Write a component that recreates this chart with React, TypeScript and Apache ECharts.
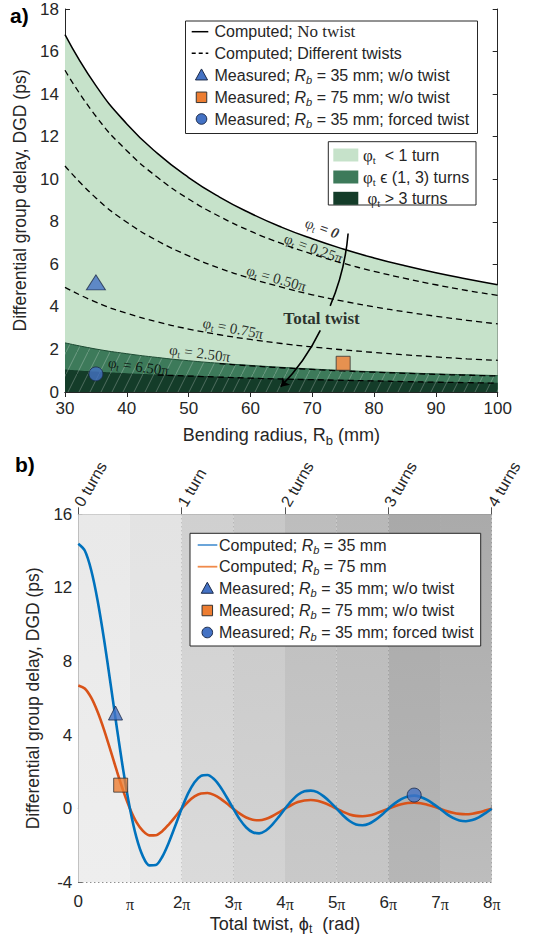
import React, { useEffect, useRef } from "react";
import * as echarts from "echarts";

// ---------------- data: panel a ----------------
const radiusMm = [30, 35, 40, 45, 50, 55, 60, 65, 70, 75, 80, 85, 90, 95, 100];
const dgdNoTwist = [16.8, 14.4, 12.6, 11.2, 10.08, 9.16, 8.4, 7.75, 7.2, 6.72, 6.3, 5.93, 5.6, 5.31, 5.04];
const dgdTwist025 = [15.12, 12.96, 11.34, 10.08, 9.07, 8.25, 7.56, 6.98, 6.48, 6.05, 5.67, 5.34, 5.04, 4.77, 4.54];
const dgdTwist050 = [10.62, 9.12, 7.98, 7.1, 6.4, 5.82, 5.34, 4.93, 4.57, 4.27, 4.0, 3.77, 3.56, 3.37, 3.2];
const dgdTwist075 = [4.92, 4.22, 3.7, 3.29, 2.96, 2.69, 2.47, 2.28, 2.12, 1.98, 1.86, 1.75, 1.65, 1.56, 1.49];
const dgdTwist250 = [null, null, null, null, null, 1.33, 1.23, 1.14, 1.06, 0.99, 0.93, 0.88, 0.83, 0.79, 0.75];
const dgdTwist650 = [null, null, null, 0.8, 0.75, 0.7, 0.65, 0.61, 0.58, 0.55, 0.52, 0.49, 0.46, 0.44, 0.41];
const boundOneTurn = [2.31, 2.02, 1.8, 1.62, 1.47, 1.35, 1.25, 1.16, 1.08, 1.01, 0.95, 0.9, 0.85, 0.81, 0.77];
const boundThreeTurns = [1.06, 0.96, 0.88, 0.82, 0.77, 0.72, 0.67, 0.63, 0.6, 0.57, 0.54, 0.51, 0.48, 0.46, 0.44];
const measTopTriangle = [35, 5.15];
const measTopSquare = [75, 1.35];
const measTopCircle = [35, 0.85];

// annotations on panel a
const annotX = [71.6, 70.2, 64.2, 57.2, 51.8, 41.9, 71.5];
const annotY = [7.7, 6.75, 5.34, 2.99, 1.82, 1.19, 3.46];
const annotAngle = [-20, -20, -16, -11, -7, -8, 0];
const annotText = [
  "{p|φ}{t|t}{b| = 0}",
  "{p|φ}{t|t}{p| = 0.25π}",
  "{p|φ}{t|t}{p| = 0.50π}",
  "{p|φ}{t|t}{p| = 0.75π}",
  "{p|φ}{t|t}{p| = 2.50π}",
  "{p|φ}{t|t}{p| = 6.50π}",
  "{bb|Total twist}",
];
const arrowUpper = [[75.8, 7.45], [72.9, 4.05]];
const arrowLower = [[71.3, 2.9], [64.9, 0.25]];

// ---------------- data: panel b ----------------
const twistPi = [0, 0.125, 0.25, 0.375, 0.5, 0.625, 0.75, 0.875, 1, 1.125, 1.25, 1.375, 1.5, 1.625, 1.75, 1.875,
  2, 2.125, 2.25, 2.375, 2.5, 2.625, 2.75, 2.875, 3, 3.125, 3.25, 3.375, 3.5, 3.625, 3.75, 3.875,
  4, 4.125, 4.25, 4.375, 4.5, 4.625, 4.75, 4.875, 5, 5.125, 5.25, 5.375, 5.5, 5.625, 5.75, 5.875,
  6, 6.125, 6.25, 6.375, 6.5, 6.625, 6.75, 6.875, 7, 7.125, 7.25, 7.375, 7.5, 7.625, 7.75, 7.875, 8];
const dgdR35 = [14.4, 14.03, 12.96, 11.29, 9.17, 6.78, 4.32, 2.0,
  0, -1.56, -2.59, -3.08, -3.06, -2.61, -1.85, -0.94,
  0, 0.83, 1.44, 1.78, 1.83, 1.61, 1.18, 0.61,
  0, -0.58, -1.02, -1.28, -1.34, -1.2, -0.88, -0.46,
  0, 0.42, 0.76, 0.95, 0.98, 0.9, 0.67, 0.36,
  0, -0.37, -0.67, -0.86, -0.9, -0.82, -0.61, -0.33,
  0, 0.29, 0.52, 0.66, 0.71, 0.64, 0.48, 0.25,
  0, -0.28, -0.5, -0.64, -0.68, -0.62, -0.47, -0.25, 0];
const dgdR75 = [6.7, 6.53, 6.03, 5.25, 4.27, 3.15, 2.01, 0.93,
  0, -0.73, -1.21, -1.45, -1.44, -1.22, -0.86, -0.44,
  0, 0.38, 0.67, 0.83, 0.85, 0.75, 0.55, 0.28,
  0, -0.27, -0.48, -0.6, -0.63, -0.56, -0.41, -0.21,
  0, 0.2, 0.36, 0.45, 0.47, 0.43, 0.32, 0.17,
  0, -0.17, -0.31, -0.39, -0.41, -0.37, -0.27, -0.14,
  0, 0.13, 0.24, 0.31, 0.33, 0.3, 0.22, 0.12,
  0, -0.12, -0.22, -0.28, -0.3, -0.27, -0.2, -0.1, 0];
const measBotTriangle = [0.72, 5.2];
const measBotSquare = [0.82, 1.28];
const measBotCircle = [6.5, 0.74];
const turnLabels = ["0 turns", "1 turn", "2 turns", "3 turns", "4 turns"];
const bandEdges = [0, 1, 2, 3, 4, 5, 6, 7, 8];

// ---------------- styles ----------------
const SANS = "'Liberation Sans', Arial, Helvetica, sans-serif";
const SERIF = "'Liberation Serif', 'Times New Roman', serif";
const INK = "#262626";
const LIGHT_GREEN = "#c6e2ca";
const MID_GREEN = "#3d7a5a";
const DARK_GREEN = "#143c29";
const TRI_BLUE = "#4472c4";
const SQ_ORANGE = "#ed7d31";
const LINE_BLUE = "#0072bd";
const LINE_ORANGE = "#d95319";
const bandTopColors = ["#e9e9e9", "#e3e3e3", "#d0d0d0", "#c8c8c8", "#bdbdbd", "#b8b8b8", "#a9a9a9", "#aaaaaa"];
const bandBottomColors = ["#eeeeee", "#e9e9e9", "#dadada", "#d3d3d3", "#c9c9c9", "#c6c6c6", "#b6b6b6", "#bdbdbd"];

function pairs(xs: number[], ys: (number | null)[]) {
  const out: number[][] = [];
  xs.forEach((x, i) => {
    const y = ys[i];
    if (y !== null && y !== undefined) out.push([x, y]);
  });
  return out;
}

function hatchPattern(base: string): any {
  const w = 11;
  const h = 22;
  if (typeof document === "undefined") return base;
  const c = document.createElement("canvas");
  c.width = w;
  c.height = h;
  const ctx = c.getContext("2d");
  if (!ctx) return base;
  ctx.fillStyle = base;
  ctx.fillRect(0, 0, w, h);
  ctx.strokeStyle = "rgba(255,255,255,0.32)";
  ctx.lineWidth = 0.8;
  ctx.beginPath();
  ctx.moveTo(-1, h + 2);
  ctx.lineTo(w + 1, -2);
  ctx.stroke();
  return { image: c, repeat: "repeat", imageWidth: w, imageHeight: h };
}

const legendRich: any = {
  n: { fontFamily: SANS, fontSize: 16, fill: INK, color: INK, lineHeight: 18 },
  i: { fontFamily: SANS, fontSize: 16, fontStyle: "italic", fill: INK, color: INK, lineHeight: 18 },
  sb: { fontFamily: SANS, fontSize: 11, fontStyle: "italic", fill: INK, color: INK, lineHeight: 12, padding: [9, 0, 0, 0] },
  sr: { fontFamily: SERIF, fontSize: 17, fill: INK, color: INK, lineHeight: 18 },
  ph: { fontFamily: SERIF, fontSize: 17, fill: INK, color: INK, lineHeight: 18 },
  pt: { fontFamily: SERIF, fontSize: 11, fill: INK, color: INK, lineHeight: 12, padding: [9, 0, 0, 0] },
};

function legendText(x: number, y: number, text: string) {
  return { type: "text", x, y, z: 101, silent: true, style: { text, rich: legendRich, align: "left", verticalAlign: "middle", fill: INK, fontFamily: SANS, fontSize: 16 } };
}
function legendBox(x: number, y: number, w: number, h: number) {
  return { type: "rect", z: 100, silent: true, shape: { x, y, width: w, height: h }, style: { fill: "#fff", stroke: INK, lineWidth: 1 } };
}
function legendLine(x1: number, x2: number, y: number, color: string, width: number, dash?: number[]) {
  return { type: "line", z: 101, silent: true, shape: { x1, y1: y, x2, y2: y }, style: { stroke: color, lineWidth: width, lineDash: dash || null } };
}
function legendTriangle(cx: number, cy: number, s: number) {
  return { type: "polygon", z: 101, silent: true, shape: { points: [[cx, cy - s * 0.55], [cx + s * 0.55, cy + s * 0.45], [cx - s * 0.55, cy + s * 0.45]] }, style: { fill: TRI_BLUE, stroke: "#1b2a4a", lineWidth: 1 } };
}
function legendSquare(cx: number, cy: number, s: number) {
  return { type: "rect", z: 101, silent: true, shape: { x: cx - s / 2, y: cy - s / 2, width: s, height: s }, style: { fill: SQ_ORANGE, stroke: "#333", lineWidth: 1 } };
}
function legendCircle(cx: number, cy: number, r: number) {
  return { type: "circle", z: 101, silent: true, shape: { cx, cy, r }, style: { fill: TRI_BLUE, stroke: "#1b2a4a", lineWidth: 1 } };
}
function swatch(x: number, y: number, color: string) {
  return { type: "rect", z: 101, silent: true, shape: { x, y: y - 6.5, width: 25, height: 13 }, style: { fill: color } };
}

function buildOption(): any {
  const tickLabel = { fontFamily: SANS, fontSize: 17, color: INK };
  const axisLineA = { show: true, lineStyle: { color: INK, width: 1 } };
  const tickA = { show: true, inside: true, length: 5, lineStyle: { color: INK } };

  const dashed = (name: string, ys: (number | null)[]) => ({
    name, type: "line", xAxisIndex: 0, yAxisIndex: 0, data: pairs(radiusMm, ys), smooth: true, symbol: "none",
    lineStyle: { color: "#000", width: 1.3, type: [6, 4] }, z: 5, silent: true,
  });

  const graphic: any[] = [
    { type: "text", x: 10, y: 15, z: 100, style: { text: "a)", fontFamily: SANS, fontWeight: "bold", fontSize: 21, fill: "#000", verticalAlign: "middle" } },
    { type: "text", x: 15, y: 464, z: 100, style: { text: "b)", fontFamily: SANS, fontWeight: "bold", fontSize: 21, fill: "#000", verticalAlign: "middle" } },
    // legend a1
    legendBox(185.5, 21, 292, 112.5),
    legendLine(191.7, 208.3, 31.7, "#000", 1.5),
    legendText(214.5, 31.7, "{n|Computed; }{sr|No twist}"),
    legendLine(191.7, 208.3, 53.3, "#000", 1.5, [4, 3]),
    legendText(214.5, 53.3, "{n|Computed; Different twists}"),
    legendTriangle(201.5, 75, 11),
    legendText(214.5, 75, "{n|Measured; }{i|R}{sb|b}{n| = 35 mm; w/o twist}"),
    legendSquare(201.5, 97.3, 10.5),
    legendText(214.5, 97.3, "{n|Measured; }{i|R}{sb|b}{n| = 75 mm; w/o twist}"),
    legendCircle(201.5, 119, 5.3),
    legendText(214.5, 119, "{n|Measured; }{i|R}{sb|b}{n| = 35 mm; forced twist}"),
    // legend a2
    legendBox(328.3, 141.7, 147.7, 63.3),
    swatch(333.3, 155, LIGHT_GREEN),
    legendText(363, 155, "{ph|φ}{pt|t}{n|  < 1 turn}"),
    swatch(333.3, 177, MID_GREEN),
    legendText(363, 177, "{ph|φ}{pt|t}{n| ϵ (1, 3) turns}"),
    swatch(333.3, 198.3, DARK_GREEN),
    legendText(363, 198.3, "{n| }{ph|φ}{pt|t}{n| > 3 turns}"),
    // legend b
    legendBox(190, 533.3, 290.7, 112.7),
    legendLine(197.7, 217.3, 545, "#5b9bd5", 1.8),
    legendText(219, 545, "{n|Computed; }{i|R}{sb|b}{n| = 35 mm}"),
    legendLine(197.7, 217.3, 566.7, "#f08a4b", 1.8),
    legendText(219, 566.7, "{n|Computed; }{i|R}{sb|b}{n| = 75 mm}"),
    legendTriangle(207.3, 588.3, 11),
    legendText(219, 588.3, "{n|Measured; }{i|R}{sb|b}{n| = 35 mm; w/o twist}"),
    legendSquare(207.3, 610.5, 10.5),
    legendText(219, 610.5, "{n|Measured; }{i|R}{sb|b}{n| = 75 mm; w/o twist}"),
    legendCircle(207.3, 632.5, 5.3),
    legendText(219, 632.5, "{n|Measured; }{i|R}{sb|b}{n| = 35 mm; forced twist}"),
  ];

  const annotRich = {
    p: { fontFamily: SERIF, fontSize: 15, color: "#000", lineHeight: 16 },
    t: { fontFamily: SERIF, fontSize: 10, color: "#000", lineHeight: 11, padding: [8, 0, 0, 0] },
    b: { fontFamily: SERIF, fontSize: 15, fontWeight: "bold", fontStyle: "italic", color: "#000", lineHeight: 16 },
    bb: { fontFamily: SERIF, fontSize: 17, fontWeight: "bold", color: "#000", lineHeight: 18 },
  };

  return {
    animation: false,
    backgroundColor: "#fff",
    graphic,
    grid: [
      { left: 65, top: 9, width: 432.7, height: 383, containLabel: false },
      { left: 78.3, top: 514.3, width: 413.4, height: 368, containLabel: false },
    ],
    xAxis: [
      {
        gridIndex: 0, type: "value", position: "bottom", min: 30, max: 100, interval: 10,
        axisLine: axisLineA, axisTick: tickA, splitLine: { show: false },
        axisLabel: { ...tickLabel, margin: 8 },
        name: "{n|Bending radius, R}{s|b}{n| (mm)}", nameLocation: "middle", nameGap: 33,
        nameTextStyle: { rich: { n: { fontFamily: SANS, fontSize: 18, color: INK, lineHeight: 20 }, s: { fontFamily: SANS, fontSize: 13, color: INK, lineHeight: 13, padding: [10, 0, 0, 0] } } },
      },
      {
        gridIndex: 0, type: "value", position: "top", min: 30, max: 100, interval: 10,
        axisLine: axisLineA, axisTick: tickA, axisLabel: { show: false }, splitLine: { show: false },
      },
      {
        gridIndex: 1, type: "value", position: "bottom", min: 0, max: 8, interval: 1,
        axisLine: { show: true, lineStyle: { color: "#5a5a5a", width: 1 } },
        axisTick: { show: true, inside: true, length: 4, lineStyle: { color: "#444" } },
        splitLine: { show: true, lineStyle: { type: [1, 3], color: "#333", width: 1 } },
        axisLabel: {
          margin: 11,
          formatter: (v: number) => (v === 0 ? "{n|0}" : v === 1 ? "{p|π}" : `{n|${v}}{p|π}`),
          rich: { n: { fontFamily: SANS, fontSize: 17, color: INK }, p: { fontFamily: SERIF, fontSize: 16, color: INK, padding: [3, 0, 0, 0] } },
        },
        name: "{n|Total twist, ϕ}{s|t}{n|  (rad)}", nameLocation: "middle", nameGap: 32,
        nameTextStyle: { rich: { n: { fontFamily: SANS, fontSize: 18, color: INK, lineHeight: 20 }, s: { fontFamily: SANS, fontSize: 12, color: INK, lineHeight: 12, padding: [10, 0, 0, 0] } } },
      },
      {
        gridIndex: 1, type: "value", position: "top", min: 0, max: 8, interval: 2,
        axisLine: { show: true, lineStyle: { color: "#777", width: 1 } },
        axisTick: { show: true, inside: false, length: 7, lineStyle: { color: "#555" } },
        splitLine: { show: false },
        axisLabel: {
          rotate: -60, align: "left", verticalAlign: "middle", margin: 9, fontFamily: SANS, fontSize: 16, color: INK,
          formatter: (v: number) => turnLabels[Math.round(v / 2)] || "",
        },
      },
    ],
    yAxis: [
      {
        gridIndex: 0, type: "value", position: "left", min: 0, max: 18, interval: 2,
        axisLine: axisLineA, axisTick: tickA, splitLine: { show: false },
        axisLabel: { ...tickLabel, margin: 6 },
        name: "Differential group delay, DGD (ps)", nameLocation: "middle", nameGap: 27,
        nameTextStyle: { fontFamily: SANS, fontSize: 17.5, color: INK },
      },
      {
        gridIndex: 0, type: "value", position: "right", min: 0, max: 18, interval: 2,
        axisLine: axisLineA, axisTick: tickA, axisLabel: { show: false }, splitLine: { show: false },
      },
      {
        gridIndex: 1, type: "value", position: "left", min: -4, max: 16, interval: 4,
        axisLine: { show: true, lineStyle: { color: "#5a5a5a", width: 1 } },
        axisTick: { show: true, inside: true, length: 4, lineStyle: { color: "#444" } },
        splitLine: { show: true, lineStyle: { type: [1, 3], color: "#333", width: 1 } },
        axisLabel: { ...tickLabel, margin: 6 },
        name: "Differential group delay, DGD (ps)", nameLocation: "middle", nameGap: 33,
        nameTextStyle: { fontFamily: SANS, fontSize: 17.5, color: INK },
      },
    ],
    series: [
      // ---- panel a fills ----
      {
        name: "fillLight", type: "line", xAxisIndex: 0, yAxisIndex: 0, data: pairs(radiusMm, dgdNoTwist), smooth: true,
        symbol: "none", lineStyle: { width: 0 }, areaStyle: { color: LIGHT_GREEN, opacity: 1 }, z: 1, silent: true,
      },
      {
        name: "fillMid", type: "line", xAxisIndex: 0, yAxisIndex: 0, data: pairs(radiusMm, boundOneTurn), smooth: true,
        symbol: "none", lineStyle: { width: 1, color: "#1e4a33" }, areaStyle: { color: hatchPattern(MID_GREEN), opacity: 1 }, z: 2, silent: true,
      },
      {
        name: "fillDark", type: "line", xAxisIndex: 0, yAxisIndex: 0, data: pairs(radiusMm, boundThreeTurns), smooth: true,
        symbol: "none", lineStyle: { width: 0 }, areaStyle: { color: hatchPattern(DARK_GREEN), opacity: 1 }, z: 3, silent: true,
      },
      dashed("twist025", dgdTwist025),
      dashed("twist050", dgdTwist050),
      dashed("twist075", dgdTwist075),
      dashed("twist250", dgdTwist250),
      dashed("twist650", dgdTwist650),
      {
        name: "noTwist", type: "line", xAxisIndex: 0, yAxisIndex: 0, data: pairs(radiusMm, dgdNoTwist), smooth: true,
        symbol: "none", lineStyle: { color: "#000", width: 1.5 }, z: 6, silent: true,
      },
      {
        name: "annotations", type: "scatter", xAxisIndex: 0, yAxisIndex: 0, symbolSize: 0, z: 10, silent: true,
        data: annotX.map((x, i) => ({ value: [x, annotY[i]], label: { show: true, position: "inside", rotate: annotAngle[i], formatter: annotText[i], rich: annotRich } })),
        label: { show: true, position: "inside", rich: annotRich },
      },
      {
        name: "arrowUpper", type: "lines", coordinateSystem: "cartesian2d", xAxisIndex: 0, yAxisIndex: 0, z: 9, silent: true,
        symbol: ["none", "none"], lineStyle: { color: "#000", width: 1.6, curveness: 0.08, opacity: 1 },
        data: [{ coords: arrowUpper }],
      },
      {
        name: "arrowLower", type: "lines", coordinateSystem: "cartesian2d", xAxisIndex: 0, yAxisIndex: 0, z: 9, silent: true,
        symbol: ["none", "arrow"], symbolSize: 8, lineStyle: { color: "#000", width: 1.6, curveness: 0.08, opacity: 1 },
        data: [{ coords: arrowLower }],
      },
      {
        name: "topTri", type: "scatter", xAxisIndex: 0, yAxisIndex: 0, data: [measTopTriangle], symbol: "triangle", symbolSize: [19, 15],
        itemStyle: { color: TRI_BLUE, borderColor: "#1b2a4a", borderWidth: 1 }, z: 12, silent: true,
      },
      {
        name: "topSq", type: "scatter", xAxisIndex: 0, yAxisIndex: 0, data: [measTopSquare], symbol: "rect", symbolSize: 14,
        itemStyle: { color: SQ_ORANGE, borderColor: "#333", borderWidth: 1 }, z: 12, silent: true,
      },
      {
        name: "topCirc", type: "scatter", xAxisIndex: 0, yAxisIndex: 0, data: [measTopCircle], symbol: "circle", symbolSize: 14,
        itemStyle: { color: TRI_BLUE, borderColor: "#1b2a4a", borderWidth: 1 }, z: 12, silent: true,
      },
      // ---- panel b ----
      {
        name: "bands", type: "line", xAxisIndex: 2, yAxisIndex: 2, data: [], z: 0, silent: true,
        markArea: {
          silent: true,
          data: bandTopColors.map((c, i) => [
            {
              xAxis: bandEdges[i],
              itemStyle: {
                opacity: 1,
                color: new echarts.graphic.LinearGradient(0, 0, 0, 1, [
                  { offset: 0, color: c },
                  { offset: 1, color: bandBottomColors[i] },
                ]),
              },
            },
            { xAxis: bandEdges[i + 1] },
          ]),
        },
      },
      {
        name: "r75", type: "line", xAxisIndex: 2, yAxisIndex: 2, data: pairs(twistPi, dgdR75), smooth: 0.3, symbol: "none",
        lineStyle: { color: LINE_ORANGE, width: 2.6 }, z: 4, silent: true,
      },
      {
        name: "r35", type: "line", xAxisIndex: 2, yAxisIndex: 2, data: pairs(twistPi, dgdR35), smooth: 0.3, symbol: "none",
        lineStyle: { color: LINE_BLUE, width: 2.6 }, z: 5, silent: true,
      },
      {
        name: "botTri", type: "scatter", xAxisIndex: 2, yAxisIndex: 2, data: [measBotTriangle], symbol: "triangle", symbolSize: [14, 14],
        itemStyle: { color: TRI_BLUE, borderColor: "#1b2a4a", borderWidth: 1 }, z: 12, silent: true,
      },
      {
        name: "botSq", type: "scatter", xAxisIndex: 2, yAxisIndex: 2, data: [measBotSquare], symbol: "rect", symbolSize: 14,
        itemStyle: { color: SQ_ORANGE, borderColor: "#333", borderWidth: 1 }, z: 12, silent: true,
      },
      {
        name: "botCirc", type: "scatter", xAxisIndex: 2, yAxisIndex: 2, data: [measBotCircle], symbol: "circle", symbolSize: 14,
        itemStyle: { color: TRI_BLUE, borderColor: "#1b2a4a", borderWidth: 1 }, z: 12, silent: true,
      },
    ],
  };
}

export default function App() {
  const ref = useRef<HTMLDivElement>(null);
  useEffect(() => {
    if (!ref.current) return;
    const chart = echarts.init(ref.current, null, { renderer: "svg" });
    chart.setOption(buildOption());
    return () => chart.dispose();
  }, []);
  return <div ref={ref} style={{ position: "absolute", left: 0, top: 0, width: 540, height: 939 }} />;
}
